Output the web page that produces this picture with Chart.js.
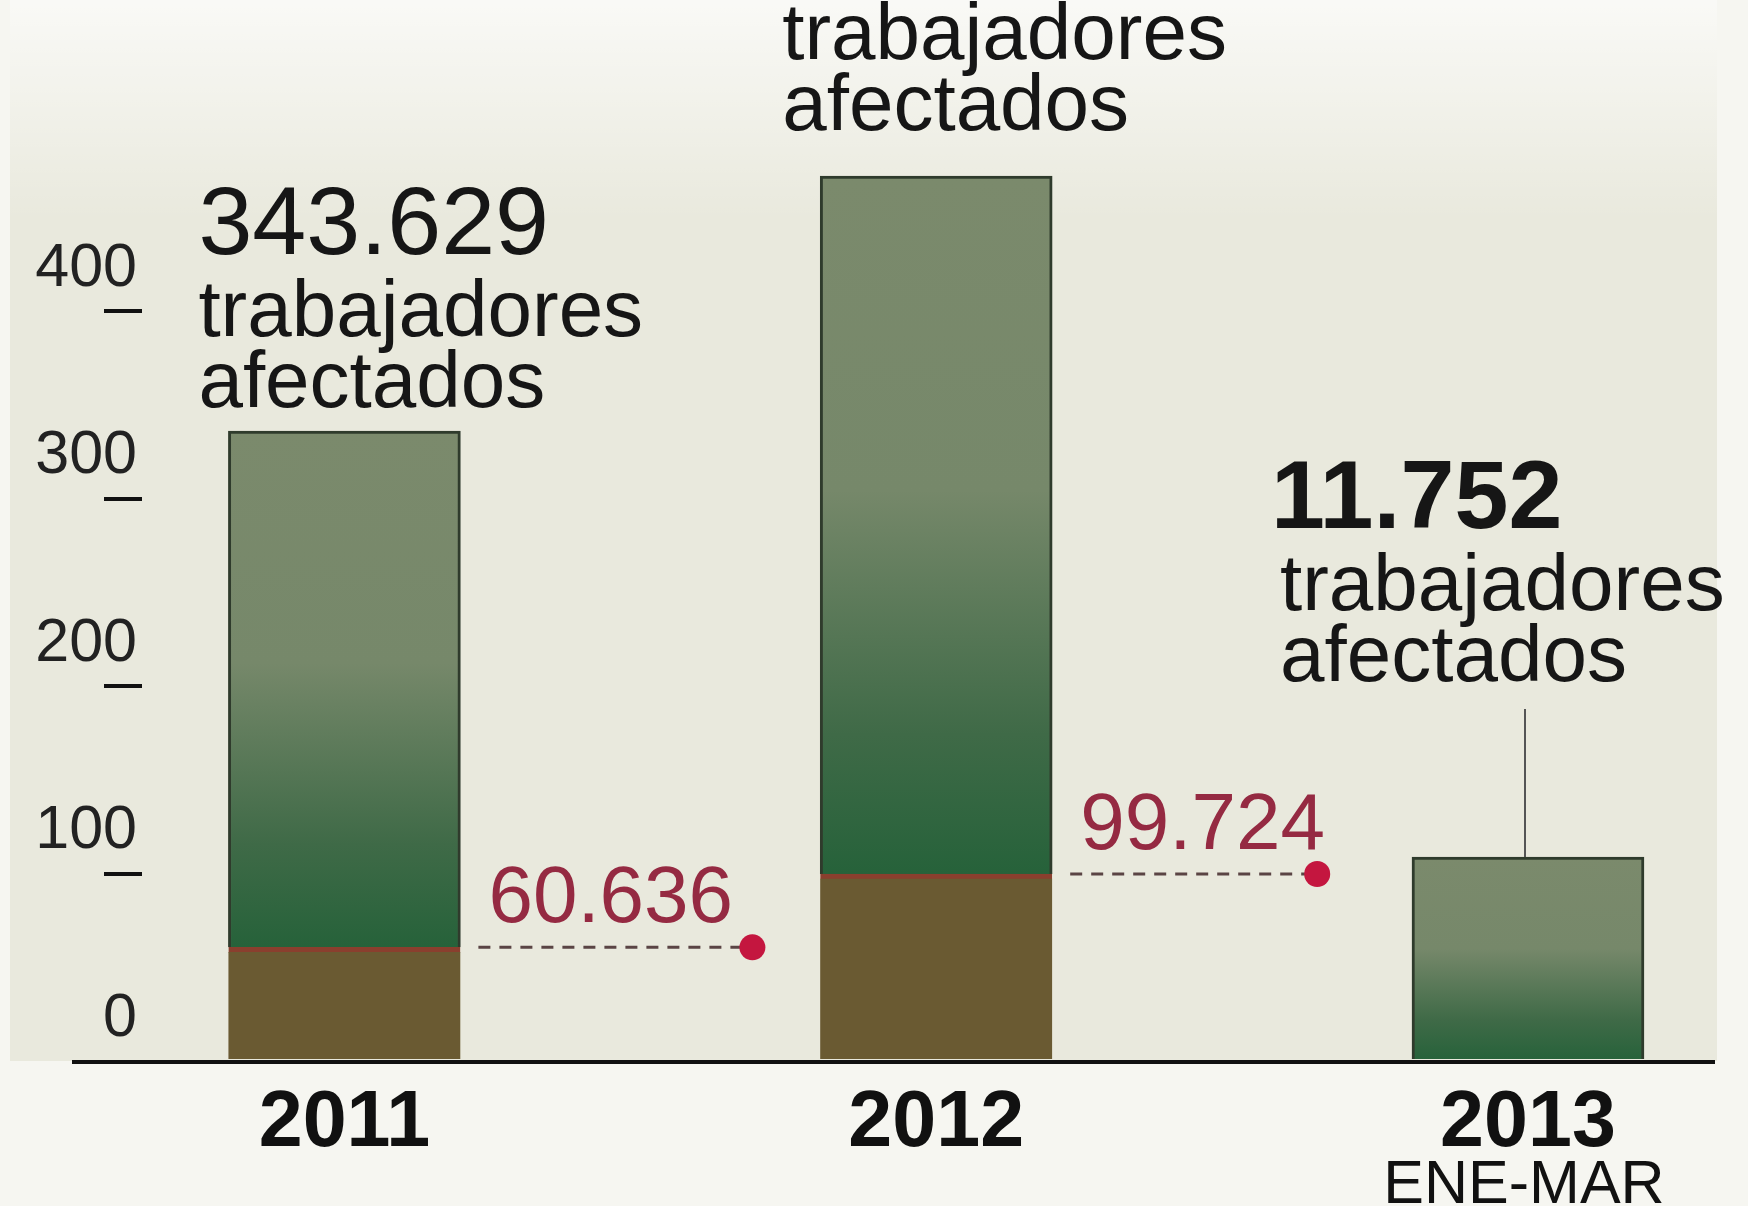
<!DOCTYPE html>
<html>
<head>
<meta charset="utf-8">
<script src="https://cdn.jsdelivr.net/npm/chart.js@4.4.1/dist/chart.umd.min.js"></script>
<style>
  html, body { margin: 0; padding: 0; background: #f6f6f1; }
  canvas { display: block; }
</style>
</head>
<body>
<canvas id="chartCanvas" width="1748" height="1206"></canvas>
<script>
// values in thousands of workers
const years = ["2011", "2012", "2013"];
const yearNotes = ["", "", "ENE-MAR"];
const lowerValues = [60.636, 99.724, null];   // brown part
const upperValues = [275.4, 372.3, 108.8];    // green part on top
const yTicks = [0, 100, 200, 300, 400];

const bigNumbers = ["343.629", "", "11.752"];
const bigBold = [false, false, true];
const redLabels = ["60.636", "99.724", ""];

// label placement relative to each bar (left edge / top)
const labelPos = [
    { dx: -30, dy: -24 },
    { dx: -38, dy: -46 },
    { dx: -132, dy: -176 }
];
const leaderLength = [292, 265, 0];

const FONT = "'Liberation Sans', Arial, sans-serif";
Chart.defaults.font.family = FONT;

const backgroundPlugin = {
    id: "paper",
    beforeDraw(chart) {
        const ctx = chart.ctx;
        const base = chart.scales.y.getPixelForValue(0);
        ctx.save();
        ctx.fillStyle = "#f6f6f1";
        ctx.fillRect(0, 0, chart.width, chart.height);
        ctx.fillStyle = "#e9e9dd";
        ctx.fillRect(10, 0, 1707, base);
        const g = ctx.createLinearGradient(0, 0, 0, 220);
        g.addColorStop(0, "rgba(255,255,255,0.75)");
        g.addColorStop(1, "rgba(255,255,255,0)");
        ctx.fillStyle = g;
        ctx.fillRect(10, 0, 1707, 220);
        ctx.restore();
    }
};

const notesPlugin = {
    id: "notes",
    afterDatasetsDraw(chart) {
        const ctx = chart.ctx;
        const x = chart.scales.x;
        const y = chart.scales.y;
        const bars = chart.getDatasetMeta(1).data;
        const base = y.getPixelForValue(0);
        ctx.save();

        // base line
        ctx.strokeStyle = "#111";
        ctx.lineWidth = 4;
        ctx.beginPath();
        ctx.moveTo(72, base + 1);
        ctx.lineTo(chart.chartArea.right, base + 1);
        ctx.stroke();

        bars.forEach(function (bar, i) {
            const left = bar.x - bar.width / 2;
            const right = bar.x + bar.width / 2;
            const top = bar.y;
            const tx = left + labelPos[i].dx;
            const ty = top + labelPos[i].dy;

            ctx.fillStyle = "#161616";
            ctx.textAlign = "left";
            ctx.textBaseline = "alphabetic";
            ctx.font = "80px " + FONT;
            ctx.fillText("afectados", tx, ty);
            ctx.fillText("trabajadores", tx, ty - 71);
            if (bigNumbers[i]) {
                ctx.font = (bigBold[i] ? "bold " : "") + "97px " + FONT;
                ctx.fillText(bigNumbers[i], tx - (bigBold[i] ? 9 : 0), ty - 153);
            }

            // thin connector for the small bar
            if (i === 2) {
                ctx.strokeStyle = "#555";
                ctx.lineWidth = 2;
                ctx.beginPath();
                ctx.moveTo(bar.x - 3, top - 148);
                ctx.lineTo(bar.x - 3, top);
                ctx.stroke();
            }

            // red marker for the lower part
            if (lowerValues[i] != null) {
                const py = y.getPixelForValue(lowerValues[i]);
                const px = right + leaderLength[i];
                ctx.strokeStyle = "#5a4444";
                ctx.lineWidth = 3;
                ctx.setLineDash([12, 9]);
                ctx.beginPath();
                ctx.moveTo(right + 18, py);
                ctx.lineTo(px, py);
                ctx.stroke();
                ctx.setLineDash([]);
                ctx.fillStyle = "#c4163f";
                ctx.beginPath();
                ctx.arc(px, py, 13, 0, Math.PI * 2);
                ctx.fill();
                ctx.fillStyle = "#952a42";
                ctx.font = "80px " + FONT;
                ctx.fillText(redLabels[i], right + 28, py - 25);
            }

            if (yearNotes[i]) {
                ctx.fillStyle = "#111";
                ctx.textAlign = "center";
                ctx.font = "61px " + FONT;
                ctx.fillText(yearNotes[i], x.getPixelForValue(i) - 4, 1203);
            }
        });
        ctx.restore();
    }
};

function greenFill(context) {
    const chart = context.chart;
    if (!chart.chartArea) {
        return "#6f8263";
    }
    const i = context.dataIndex;
    const y = chart.scales.y;
    const low = lowerValues[i] || 0;
    const top = y.getPixelForValue(low + upperValues[i]);
    const bottom = y.getPixelForValue(low);
    const g = chart.ctx.createLinearGradient(0, top, 0, bottom);
    g.addColorStop(0, "#7b8a6c");
    g.addColorStop(0.45, "#76886a");
    g.addColorStop(0.8, "#3f6a47");
    g.addColorStop(1, "#26623a");
    return g;
}

const ctx = document.getElementById("chartCanvas").getContext("2d");

new Chart(ctx, {
    type: "bar",
    data: {
        datasets: [{
            label: "base",
            data: lowerValues.map(function (v, i) { return { x: i, y: v }; }),
            backgroundColor: "#6a5a32",
            borderColor: "#8a3f2e",
            borderWidth: { top: 5, left: 0, right: 0, bottom: 0 },
            borderSkipped: false,
            barThickness: 232
        }, {
            label: "total",
            data: upperValues.map(function (v, i) { return { x: i, y: v }; }),
            backgroundColor: greenFill,
            borderColor: "#2f3b2c",
            borderWidth: { top: 3, left: 3, right: 3, bottom: 0 },
            borderSkipped: false,
            barThickness: 232
        }]
    },
    options: {
        responsive: false,
        animation: false,
        devicePixelRatio: 1,
        layout: { padding: { top: 0, right: 33, bottom: 0, left: 0 } },
        plugins: {
            legend: { display: false },
            tooltip: { enabled: false }
        },
        scales: {
            x: {
                type: "linear",
                stacked: true,
                offset: false,
                min: -0.342,
                max: 2.316,
                afterFit: function (scale) { scale.height = 145; },
                grid: { display: false, drawTicks: false, offset: false },
                border: { display: false },
                ticks: {
                    stepSize: 1,
                    includeBounds: false,
                    autoSkip: false,
                    maxRotation: 0,
                    padding: 16,
                    color: "#111",
                    font: { size: 79, weight: "bold" },
                    callback: function (v) { return years[v] || ""; }
                }
            },
            y: {
                stacked: true,
                min: 0,
                max: 564,
                afterFit: function (scale) { scale.width = 142; },
                border: { display: false },
                grid: {
                    drawOnChartArea: false,
                    drawTicks: true,
                    tickLength: 38,
                    lineWidth: 4,
                    color: function (c) {
                        return c.tick && c.tick.value > 0 && yTicks.includes(c.tick.value) ? "#111" : "rgba(0,0,0,0)";
                    }
                },
                ticks: {
                    stepSize: 100,
                    includeBounds: false,
                    labelOffset: -42,
                    padding: -33,
                    color: "#222",
                    font: { size: 61 },
                    callback: function (v) { return yTicks.includes(v) ? String(v) : ""; }
                }
            }
        }
    },
    plugins: [backgroundPlugin, notesPlugin]
});
</script>
</body>
</html>
